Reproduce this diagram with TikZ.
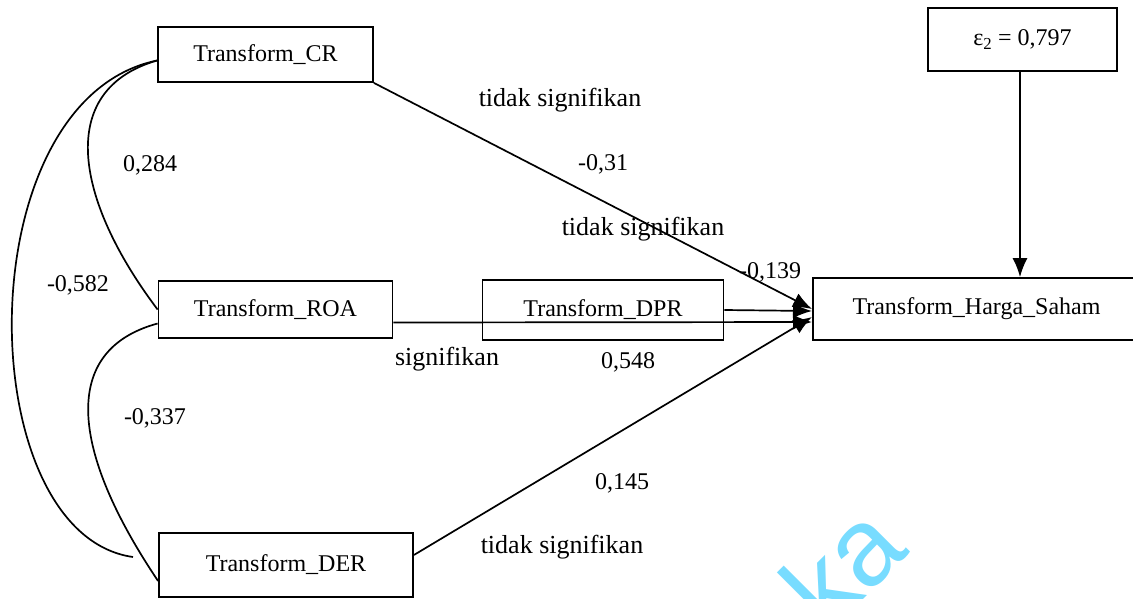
\documentclass[tikz,border=0pt]{standalone}
\usepackage{fontspec}
\setmainfont{Liberation Serif}
\newfontfamily\wmfont{Liberation Sans}
\usetikzlibrary{arrows.meta}
\definecolor{wmblue}{RGB}{120,220,255}
\begin{document}
\begin{tikzpicture}[x=1pt,y=-1pt,
  box/.style={draw, line width=1.8pt, inner sep=0pt, font=\fontsize{24}{28}\selectfont},
  conn/.style={line width=1.7pt},
  arr/.style={line width=1.7pt, -{Latex[length=19pt,width=15pt]}},
  lbl/.style={inner sep=0pt, font=\fontsize{24}{28}\selectfont},
  sig/.style={inner sep=0pt, font=\fontsize{26}{30}\selectfont}]
\useasboundingbox (0,0) rectangle (1133,598);
\clip (0,0) rectangle (1133,598);
\fill[white] (0,0) rectangle (1133,598);
% watermark
\node[rotate=45, text=wmblue, font=\wmfont\fontsize{110}{120}\selectfont, inner sep=0pt] (wm) at (842,566) {ka};
% boxes
\node[box, minimum width=215pt, minimum height=55pt] (cr) at (265.5,54.5) {Transform\_CR};
\node[box, minimum width=234pt, minimum height=57pt] (roa) at (275.5,309.5) {Transform\_ROA};
\node[box, minimum width=254pt, minimum height=64pt] (der) at (286,565) {Transform\_DER};
\node[box, minimum width=241pt, minimum height=60pt] (dpr) at (603,310) {Transform\_DPR};
\node[box, minimum width=327pt, minimum height=62pt] (harga) at (976.5,309) {Transform\_Harga\_Saham};
\node[box, minimum width=189pt, minimum height=63pt] (eps) at (1022.5,39.5) {ε\textsubscript{2} = 0,797};
% arrow tips
\coordinate (tcr) at (812,309);
\coordinate (tdpr) at (812,311);
\coordinate (troa) at (812,322);
\coordinate (tder) at (812,317);
% paths
\draw[arr] (cr.south east) -- (tcr);
\draw[arr] ([yshift=-13pt]roa.east) -- (troa);
\draw[arr] (dpr.east) -- (tdpr);
\draw[arr] ([yshift=10pt]der.east) -- (tder);
\draw[arr] (eps.south -| 1020,0) -- (1020,0 |- harga.north);
% correlation curves
\draw[conn] ([yshift=-6pt]cr.west) .. controls (55,90) and (75,200) .. ([yshift=0pt]roa.west);
\draw[conn] ([yshift=-6pt]cr.west) .. controls (-35,100) and (-30,534) .. (133,557);
\draw[conn] ([yshift=-14pt]roa.west) .. controls (60,350) and (70,450) .. ([yshift=-16pt]der.west);
% labels
\node[sig] (l1) at (560,100) {tidak signifikan};
\node[lbl] (l2) at (603,164) {-0,31};
\node[sig] (l3) at (643,229) {tidak signifikan};
\node[lbl] (l4) at (770,272) {-0,139};
\node[sig] (l5) at (447,359) {signifikan};
\node[lbl] (l6) at (628,362) {0,548};
\node[lbl] (l7) at (622,483) {0,145};
\node[sig] (l8) at (562,547) {tidak signifikan};
\node[lbl] (l9) at (150,165) {0,284};
\node[lbl] (l10) at (78,285) {-0,582};
\node[lbl] (l11) at (155,418) {-0,337};
\end{tikzpicture}
\end{document}
